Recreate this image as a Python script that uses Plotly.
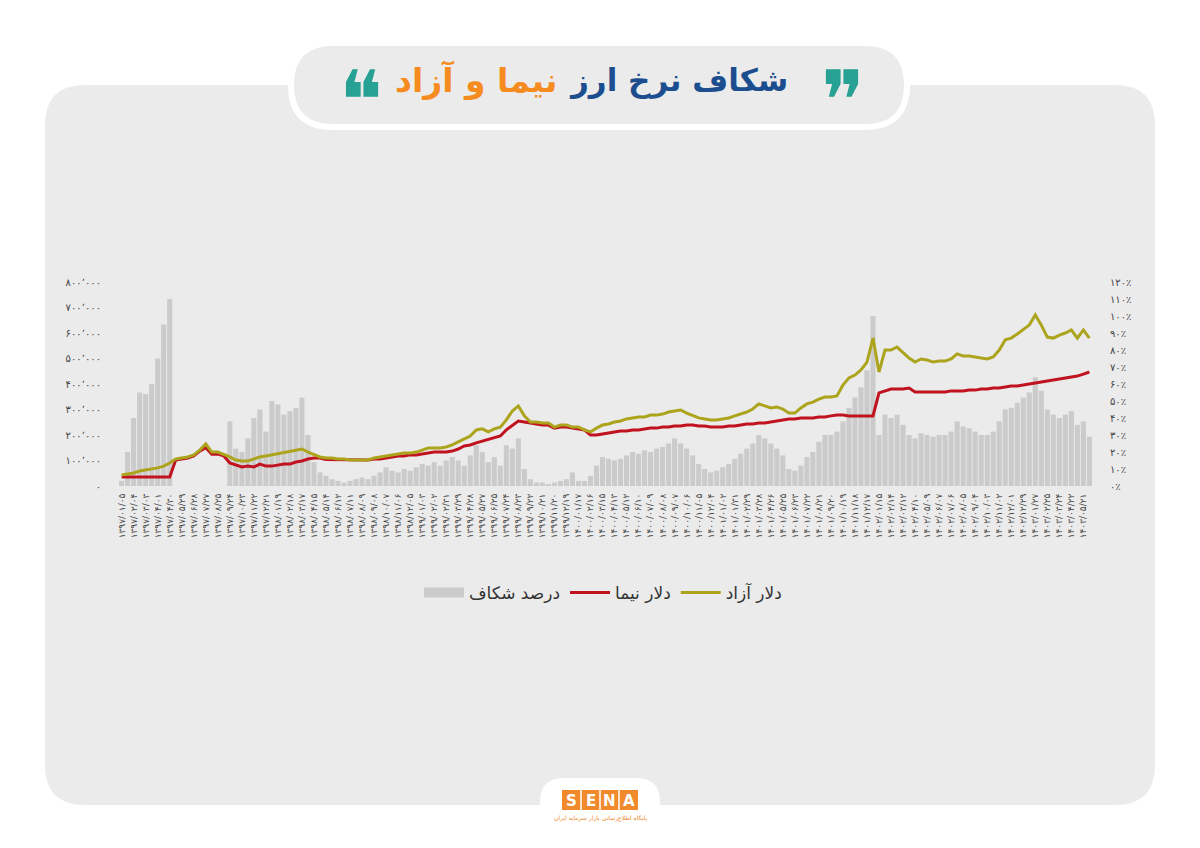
import plotly.graph_objects as go

# ---------------- data ----------------
# free-market dollar (rials, in thousands)
azad_k = [43, 47, 51, 59, 63, 67, 71, 78, 90, 106,
          110, 114, 122, 141, 165, 133, 133, 125, 114, 102,
          98, 98, 106, 114, 118, 122, 129, 133, 137, 141,
          145, 133, 122, 114, 110, 110, 106, 106, 102, 102,
          102, 102, 110, 114, 118, 122, 125, 129, 129, 133,
          141, 149, 149, 149, 153, 161, 173, 184, 196, 220,
          224, 212, 224, 231, 259, 294, 314, 275, 251, 251,
          247, 247, 231, 239, 239, 231, 231, 220, 212, 227,
          239, 243, 251, 255, 263, 267, 271, 271, 278, 278,
          282, 290, 294, 298, 286, 278, 267, 263, 259, 259,
          263, 267, 275, 282, 290, 302, 322, 314, 306, 310,
          302, 286, 286, 306, 322, 329, 341, 349, 349, 353,
          396, 424, 435, 455, 486, 580, 447, 533, 533, 545,
          525, 502, 486, 498, 494, 486, 490, 490, 498, 518,
          510, 510, 506, 502, 498, 506, 533, 573, 580, 596,
          612, 631, 671, 631, 584, 580, 592, 600, 612, 580,
          612, 580]

# NIMA dollar (rials, in thousands)
nima_k = [35, 35, 35, 35, 35, 35, 35, 35, 35, 102,
          106, 110, 118, 137, 150, 125, 125, 118, 90, 82,
          75, 78, 75, 86, 78, 78, 82, 86, 86, 94,
          98, 106, 110, 110, 104, 104, 104, 104, 102, 102,
          102, 102, 106, 106, 110, 114, 118, 118, 122, 122,
          125, 129, 133, 133, 133, 137, 145, 157, 161, 169,
          176, 184, 192, 196, 220, 239, 255, 251, 247, 243,
          239, 239, 227, 231, 231, 227, 224, 220, 200, 200,
          204, 208, 212, 216, 216, 220, 220, 224, 227, 227,
          231, 231, 235, 235, 239, 239, 235, 235, 231, 231,
          231, 235, 235, 239, 243, 243, 247, 247, 251, 255,
          259, 263, 263, 267, 267, 267, 271, 271, 275, 278,
          278, 275, 275, 275, 275, 275, 365, 373, 380, 380,
          380, 384, 369, 369, 369, 369, 369, 369, 373, 373,
          373, 376, 376, 380, 380, 384, 384, 388, 392, 392,
          396, 400, 404, 408, 412, 416, 420, 424, 427, 431,
          439, 447]

# gap percentage
gap_pct = [3, 20, 40, 55, 54, 60, 75, 95, 110, 0,
           0, 0, 0, 0, 0, 0, 0, 0, 38, 22,
           20, 28, 40, 45, 32, 50, 48, 42, 44, 46,
           52, 30, 14, 8, 6, 4, 3, 2, 3, 4,
           5, 4, 6, 8, 11, 9, 8, 10, 9, 11,
           13, 12, 14, 12, 15, 17, 15, 12, 18, 24,
           20, 14, 17, 12, 24, 22, 28, 10, 4, 2,
           2, 1, 2, 3, 4, 8, 3, 3, 6, 12,
           17, 16, 15, 16, 18, 20, 19, 21, 20, 22,
           23, 25, 28, 25, 22, 18, 13, 10, 8, 9,
           11, 13, 16, 19, 22, 25, 30, 28, 25, 22,
           18, 10, 9, 12, 17, 20, 26, 30, 30, 32,
           38, 46, 52, 58, 68, 100, 30, 42, 40, 42,
           36, 30, 28, 31, 30, 29, 30, 30, 32, 38,
           35, 34, 32, 30, 30, 32, 38, 45, 46, 49,
           52, 55, 64, 56, 45, 42, 40, 42, 44, 36,
           38, 29]

date_labels = [
    "1397/01/05", "1397/02/04", "1397/03/03", "1397/04/01", "1397/04/30", "1397/05/29",
    "1397/06/28", "1397/07/27", "1397/08/25", "1397/09/24", "1397/10/23", "1397/11/22",
    "1397/12/21",
    "1398/01/19", "1398/02/18", "1398/03/17", "1398/04/15", "1398/05/14", "1398/06/12",
    "1398/07/11", "1398/08/09", "1398/09/08", "1398/10/07", "1398/11/06", "1398/12/05",
    "1399/01/03", "1399/02/02", "1399/02/31", "1399/03/29", "1399/04/28", "1399/05/27",
    "1399/06/25", "1399/07/24", "1399/08/23", "1399/09/22", "1399/10/21", "1399/11/20",
    "1399/12/19",
    "1400/01/17", "1400/02/16", "1400/03/15", "1400/04/13", "1400/05/12", "1400/06/10",
    "1400/07/09", "1400/08/08", "1400/09/07", "1400/10/06", "1400/11/05", "1400/12/04",
    "1401/01/02", "1401/01/31", "1401/02/29", "1401/03/28", "1401/04/26", "1401/05/25",
    "1401/06/23", "1401/07/22", "1401/08/21", "1401/09/20", "1401/10/19", "1401/11/18",
    "1401/12/17",
    "1402/01/15", "1402/02/14", "1402/03/12", "1402/04/10", "1402/05/09", "1402/06/07",
    "1402/07/06", "1402/08/05", "1402/09/04", "1402/10/03", "1402/11/02", "1402/12/01",
    "1402/12/29",
    "1403/01/27", "1403/02/25", "1403/03/24", "1403/04/22", "1403/05/21",
]

left_ticks = [0, 100000, 200000, 300000, 400000, 500000, 600000, 700000, 800000]
right_ticks = [0, 10, 20, 30, 40, 50, 60, 70, 80, 90, 100, 110, 120]

# ---------------- helpers ----------------
FA = str.maketrans("0123456789", "۰۱۲۳۴۵۶۷۸۹")
FONT = "DejaVu Sans"

OFF = 8  # page body margin offset
W, H = 1200 - OFF, 848 - OFF
PL, PR, PT, PB = 118, 1093, 282, 486   # plot area in screen pixels


def fx(x):
    return (x - PL) / (PR - PL)


def fy(y):
    return (PB - y) / (PB - PT)


def rrect(x0, y0, x1, y1, r):
    pts = [
        ("M", [(x0 + r, y0)]), ("L", [(x1 - r, y0)]), ("Q", [(x1, y0), (x1, y0 + r)]),
        ("L", [(x1, y1 - r)]), ("Q", [(x1, y1), (x1 - r, y1)]),
        ("L", [(x0 + r, y1)]), ("Q", [(x0, y1), (x0, y1 - r)]),
        ("L", [(x0, y0 + r)]), ("Q", [(x0, y0), (x0 + r, y0)]),
    ]
    s = ""
    for cmd, ps in pts:
        s += cmd + " " + " ".join(f"{fx(a):.5f},{fy(b):.5f}" for a, b in ps) + " "
    return s + "Z"


n = len(azad_k)
idx = list(range(n))
azad = [v * 1000 for v in azad_k]
nima = [v * 1000 for v in nima_k]

left_text = ["۰" if v == 0 else f"{v:,}".translate(FA).replace(",", "٬") for v in left_ticks]
right_text = [f"{v}".translate(FA) + "٪" for v in right_ticks]
x_text = [d.translate(FA) for d in date_labels]
x_vals = idx[::2][:len(x_text)]

BAR_COLOR = "#cbcbcb"

fig = go.Figure()
fig.add_trace(go.Bar(x=idx, y=gap_pct, yaxis="y", name="درصد شکاف", showlegend=False,
                     marker=dict(color=BAR_COLOR, line=dict(width=0))))
# legend swatch for the gap bars (wide rectangle like the reference)
fig.add_trace(go.Scatter(x=[None], y=[None], yaxis="y", mode="lines", name="درصد شکاف",
                         line=dict(color=BAR_COLOR, width=11)))
fig.add_trace(go.Scatter(x=idx, y=nima, yaxis="y2", mode="lines", name="دلار نیما",
                         line=dict(color="#c1121f", width=3)))
fig.add_trace(go.Scatter(x=idx, y=azad, yaxis="y2", mode="lines", name="دلار آزاد",
                         line=dict(color="#aca41c", width=3)))

shapes = [
    dict(type="path", path=rrect(45, 85, 1155, 805, 40), xref="paper", yref="paper",
         fillcolor="#ebebeb", line=dict(width=0), layer="below"),
    dict(type="path", path=rrect(291, 43, 907, 127, 42), xref="paper", yref="paper",
         fillcolor="#ebebeb", line=dict(color="white", width=6), layer="below"),
    dict(type="path", path=rrect(540, 778, 660, 870, 24), xref="paper", yref="paper",
         fillcolor="white", line=dict(width=0), layer="below"),
    dict(type="rect", x0=fx(562), x1=fx(638), y0=fy(790), y1=fy(810), xref="paper", yref="paper",
         fillcolor="#f08a2c", line=dict(width=0), layer="above"),
]
for xd in (581, 600, 619):
    shapes.append(dict(type="line", x0=fx(xd), x1=fx(xd), y0=fy(790), y1=fy(810),
                       xref="paper", yref="paper", line=dict(color="white", width=1.5)))

ann = [
    dict(text="<b>شکاف نرخ ارز</b>", x=fx(678), y=fy(80), font=dict(family=FONT, size=31, color="#1c4e8f")),
    dict(text="<b>نیما و آزاد</b>", x=fx(476), y=fy(80), font=dict(family=FONT, size=33, color="#f68b1f")),
    dict(text="❞", x=fx(843), y=fy(100), font=dict(family=FONT, size=82, color="#27a193")),
    dict(text="❝", x=fx(361), y=fy(100), font=dict(family=FONT, size=82, color="#27a193")),
    dict(text="پایگاه اطلاع‌رسانی بازار سرمایه ایران", x=fx(600), y=fy(818),
         font=dict(family=FONT, size=6, color="#f08a2c")),
]
for ch, xc in zip("SENA", (571.5, 590.5, 609.5, 628.5)):
    ann.append(dict(text=f"<b>{ch}</b>", x=fx(xc), y=fy(800.5),
                    font=dict(family=FONT, size=15, color="white")))
for a in ann:
    a.update(xref="paper", yref="paper", showarrow=False, xanchor="center", yanchor="middle")

fig.update_layout(
    width=W, height=H,
    margin=dict(l=PL - OFF, r=1200 - PR, t=PT - OFF, b=848 - PB, pad=0),
    paper_bgcolor="white", plot_bgcolor="rgba(0,0,0,0)",
    bargap=0.15,
    showlegend=True,
    legend=dict(orientation="h", x=fx(603), y=fy(593), xanchor="center", yanchor="middle",
                font=dict(family=FONT, size=17, color="#333333"), bgcolor="rgba(0,0,0,0)",
                itemwidth=40, traceorder="normal"),
    xaxis=dict(range=[-0.6, n - 0.4], tickmode="array", tickvals=x_vals, ticktext=x_text,
               tickangle=-90, tickfont=dict(family=FONT, size=9, color="#444444"),
               showgrid=False, zeroline=False, showline=False, ticks="outside", ticklen=3,
               tickcolor="rgba(0,0,0,0)"),
    yaxis=dict(side="right", range=[0, 120], tickmode="array", tickvals=right_ticks,
               ticktext=right_text, tickfont=dict(family=FONT, size=10, color="#444444"),
               showgrid=False, zeroline=False, showline=False, ticks="outside", ticklen=14,
               tickcolor="rgba(0,0,0,0)"),
    yaxis2=dict(side="left", overlaying="y", range=[0, 800000], tickmode="array",
                tickvals=left_ticks, ticktext=left_text,
                tickfont=dict(family=FONT, size=10, color="#444444"),
                showgrid=False, zeroline=False, showline=False, ticks="outside", ticklen=14,
                tickcolor="rgba(0,0,0,0)"),
    shapes=shapes,
    annotations=ann,
)

fig.write_html("out.html")
